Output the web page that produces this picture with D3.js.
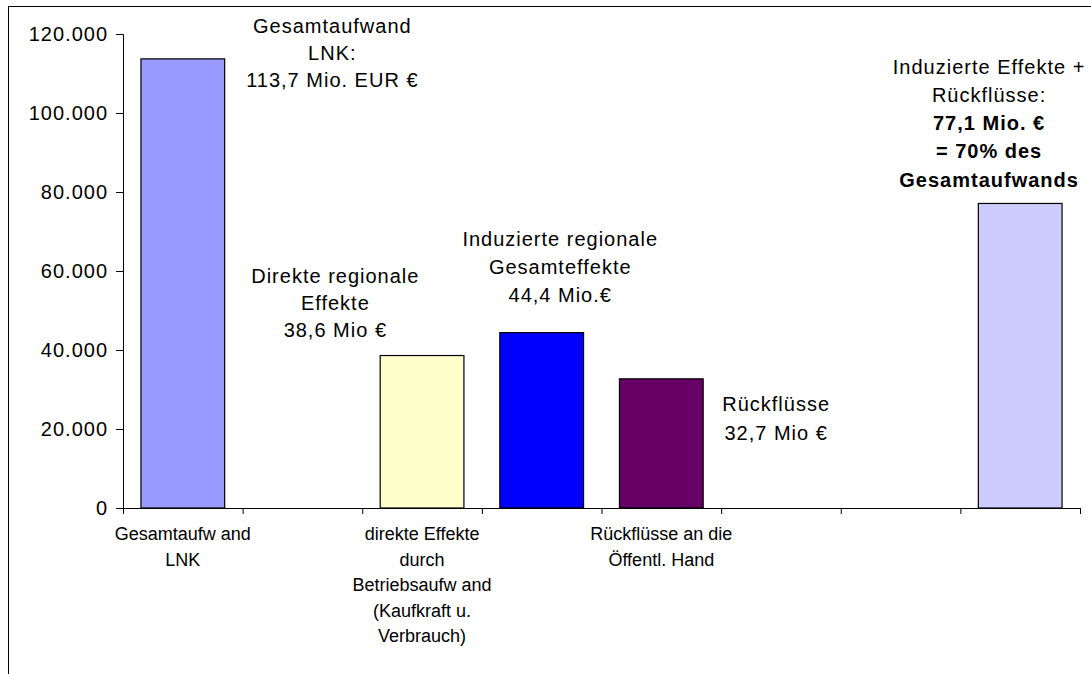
<!DOCTYPE html>
<html>
<head>
<meta charset="utf-8">
<script src="https://cdn.jsdelivr.net/npm/d3@7"></script>
<style>
  html, body { margin: 0; padding: 0; background: #fff; }
  svg { display: block; font-family: "Liberation Sans", Arial, sans-serif; }
</style>
</head>
<body>
<svg id="chart" width="1091" height="674"></svg>
<script>
// ---- data ----
const categoryLabels = [
  ["Gesamtaufw and", "LNK"],
  [],
  ["direkte Effekte", "durch", "Betriebsaufw and", "(Kaufkraft u.", "Verbrauch)"],
  [],
  ["Rückflüsse an die", "Öffentl. Hand"],
  [],
  [],
  []
];
const values = [113700, null, 38600, 44400, 32700, null, null, 77100];
const barColors = ["#9999FF", null, "#FFFFCC", "#0000FF", "#660066", null, null, "#CCCCFF"];
const yTicks = [0, 20000, 40000, 60000, 80000, 100000, 120000];

// annotations: anchor in data space (slot position, value) + lines
const annoSlot  = [1.75, 1.775, 3.655, 5.46, 7.24];
const annoValue = [120250, 56950, 66400, 24600, 109900];
const annoLines = [
  [["Gesamtaufwand", false], ["LNK:", false], ["113,7 Mio. EUR €", false]],
  [["Direkte regionale", false], ["Effekte", false], ["38,6 Mio €", false]],
  [["Induzierte regionale", false], ["Gesamteffekte", false], ["44,4 Mio.€", false]],
  [["Rückflüsse", false], ["32,7 Mio €", false]],
  [["Induzierte Effekte +", false], ["Rückflüsse:", false], ["77,1 Mio. €", true], ["= 70% des", true], ["Gesamtaufwands", true]]
];
const annoLineGap = [27, 27, 28, 29, 28.2];

// ---- layout ----
const svg = d3.select("#chart");
const W = 1091, H = 674;
const plot = { left: 123, right: 1080, top: 34, bottom: 508 };

// frame
svg.append("rect")
  .attr("x", 8.5).attr("y", 6.5)
  .attr("width", 1200).attr("height", 800)
  .attr("fill", "#fff").attr("stroke", "#000").attr("stroke-width", 1);

const idx = values.map((d, i) => i);
const x = d3.scaleBand().domain(idx).range([plot.left, plot.right])
  .paddingInner(0.3).paddingOuter(0.15);
const xs = d3.scaleLinear().domain([0, values.length]).range([plot.left, plot.right]);
const y = d3.scaleLinear().domain([0, 120000]).range([plot.bottom, plot.top]);

const locale = d3.formatLocale({ decimal: ",", thousands: ".", grouping: [3], currency: ["", "€"] });
const fmt = locale.format(",");

// bars
svg.append("g").selectAll("rect")
  .data(idx.filter(i => values[i] != null))
  .join("rect")
  .attr("x", i => x(i))
  .attr("y", i => y(values[i]))
  .attr("width", x.bandwidth())
  .attr("height", i => y(0) - y(values[i]))
  .attr("fill", i => barColors[i])
  .attr("stroke", "#000")
  .attr("stroke-width", 1.2);

// y axis
const yAxis = svg.append("g")
  .attr("transform", `translate(${plot.left},0)`)
  .call(d3.axisLeft(y).tickValues(yTicks).tickFormat(fmt).tickSize(7).tickPadding(8));
yAxis.selectAll("text")
  .attr("font-size", 20).attr("fill", "#000")
  .attr("font-family", "Liberation Sans, Arial, sans-serif")
  .style("letter-spacing", "1px");
yAxis.selectAll("line, path").attr("stroke", "#000");

// x axis (ticks at category boundaries)
const xAxis = svg.append("g")
  .attr("transform", `translate(0,${plot.bottom})`)
  .call(d3.axisBottom(xs).tickValues(d3.range(values.length + 1)).tickFormat("").tickSize(6).tickSizeOuter(0));
xAxis.selectAll("line, path").attr("stroke", "#000");

// category labels
const catG = svg.append("g").attr("font-size", 18).attr("fill", "#000").attr("text-anchor", "middle");
categoryLabels.forEach((lines, i) => {
  const t = catG.append("text")
    .attr("x", x(i) + x.bandwidth() / 2)
    .attr("y", plot.bottom + 32);
  lines.forEach((ln, k) => {
    t.append("tspan")
      .attr("x", x(i) + x.bandwidth() / 2)
      .attr("dy", k === 0 ? 0 : 25.6)
      .text(ln);
  });
});

// annotations
const annG = svg.append("g").attr("font-size", 20).attr("fill", "#000").attr("text-anchor", "middle")
  .style("letter-spacing", "1px");
annoLines.forEach((lines, a) => {
  const cx = xs(annoSlot[a]);
  const t = annG.append("text").attr("x", cx).attr("y", y(annoValue[a]));
  lines.forEach(([ln, bold], k) => {
    t.append("tspan")
      .attr("x", cx)
      .attr("dy", k === 0 ? 0 : annoLineGap[a])
      .attr("font-weight", bold ? "bold" : "normal")
      .text(ln);
  });
});
</script>
</body>
</html>
